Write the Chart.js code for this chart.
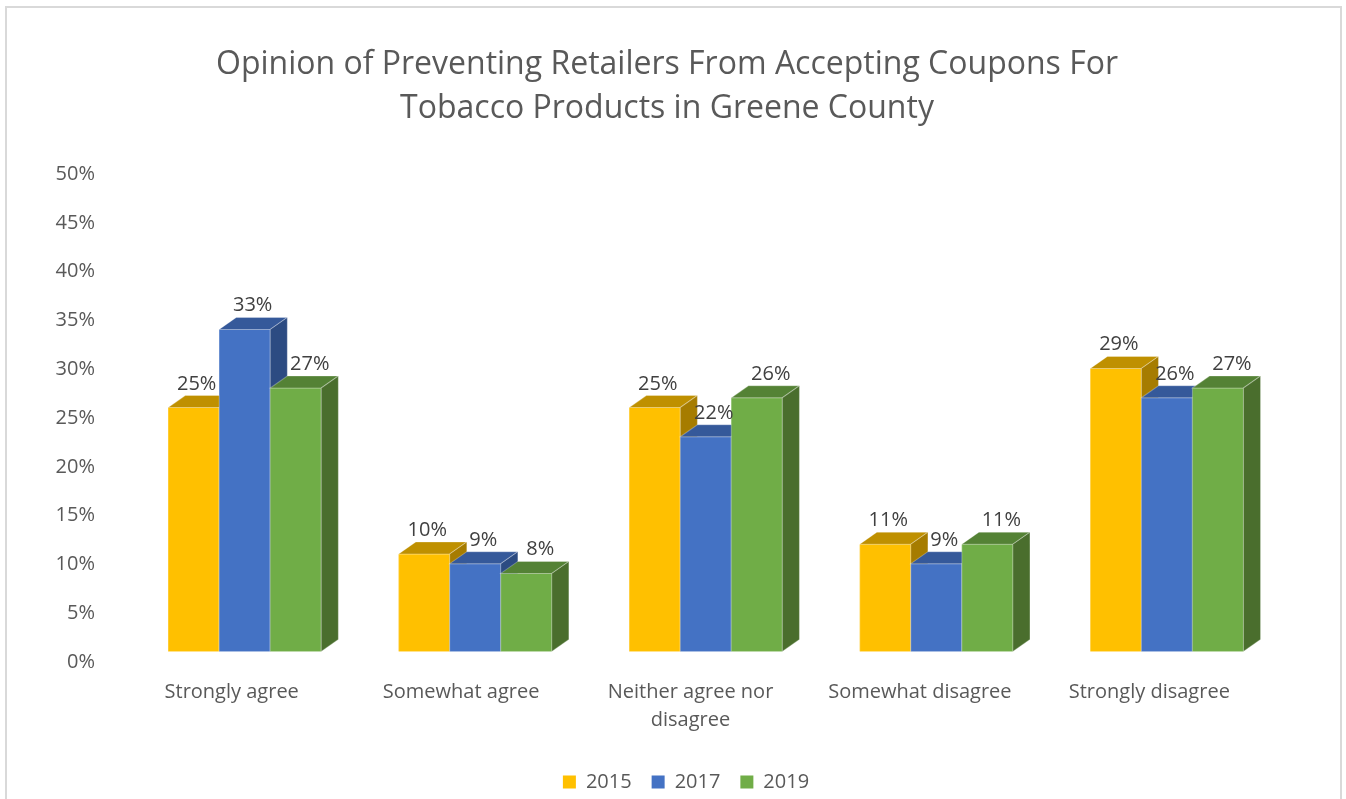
<!DOCTYPE html>
<html>
<head>
<meta charset="utf-8">
<title>Coupons opinion chart</title>
<script src="https://cdn.jsdelivr.net/npm/chart.js@4.4.0/dist/chart.umd.min.js"></script>
<style>
  html, body { margin: 0; padding: 0; background: #fff; }
  #wrap { width: 1346px; height: 799px; position: relative; }
</style>
</head>
<body>
<div id="wrap"><canvas id="chart"></canvas></div>
<script>
// chart data
const categories = ['Strongly agree', 'Somewhat agree', ['Neither agree nor', 'disagree'], 'Somewhat disagree', 'Strongly disagree'];
const years = ['2015', '2017', '2019'];
const values2015 = [25, 10, 25, 11, 29];
const values2017 = [33, 9, 22, 9, 26];
const values2019 = [27, 8, 26, 11, 27];
const yTickMax = 50;
const yTickStep = 5;

// face colours (front, top, side) per year
const frontColors = ['#FFC000', '#4472C4', '#70AD47'];
const topColors = ['#BF9000', '#35599A', '#548235'];
const sideColors = ['#A67C00', '#2C4B82', '#4A6E2D'];
const labelOffsets = [3, 8, 14];

const FONT = '"Open Sans", "DejaVu Sans", sans-serif';
const DX = 17, DY = 12, SHIFT_X = 13, SHIFT_Y = -10.5, STRETCH = 1.005, PIVOT = 232;
const TITLE_CENTER = 667, LEGEND_CENTER = 686;
const EDGE = 'rgba(255,255,255,0.28)';

const border = {
  id: 'border',
  afterLayout(chart) {
    // excel centres the title and legend a little differently from chart.js
    const t = chart.titleBlock;
    const dt = TITLE_CENTER - (t.left + t.right) / 2;
    t.left += dt; t.right += dt;
    const l = chart.legend;
    const dl = LEGEND_CENTER - (l.left + l.right) / 2;
    l.left += dl; l.right += dl;
  },
  beforeDraw(chart) {
    const ctx = chart.ctx;
    ctx.save();
    ctx.strokeStyle = '#D9D9D9';
    ctx.lineWidth = 2;
    ctx.strokeRect(6, 7, 1335, 820);
    ctx.restore();
  }
};

function face(ctx, pts, color) {
  ctx.beginPath();
  ctx.moveTo(pts[0][0], pts[0][1]);
  for (let i = 1; i < pts.length; i++) ctx.lineTo(pts[i][0], pts[i][1]);
  ctx.closePath();
  ctx.fillStyle = color;
  ctx.fill();
  ctx.strokeStyle = EDGE;
  ctx.lineWidth = 1;
  ctx.stroke();
}

const bars3d = {
  id: 'bars3d',
  beforeDatasetsDraw(chart) {
    const ctx = chart.ctx;
    ctx.save();
    ctx.translate(PIVOT + SHIFT_X, SHIFT_Y);
    ctx.scale(STRETCH, 1);
    ctx.translate(-PIVOT, 0);
  },
  afterDatasetsDraw(chart) {
    const ctx = chart.ctx;
    const metas = chart.data.datasets.map((ds, i) => chart.getDatasetMeta(i));
    // paint left to right inside each group so side faces sit behind the next bar
    for (let c = 0; c < categories.length; c++) {
      metas.forEach((meta, d) => {
        const el = meta.data[c];
        const l = el.x - el.width / 2, r = el.x + el.width / 2, t = el.y, b = el.base;
        face(ctx, [[l, t], [r, t], [r, b], [l, b]], frontColors[d]);
        face(ctx, [[l, t], [l + DX, t - DY], [r + DX, t - DY], [r, t]], topColors[d]);
        face(ctx, [[r, t], [r + DX, t - DY], [r + DX, b - DY], [r, b]], sideColors[d]);
      });
    }
    ctx.restore();

    // value labels
    ctx.save();
    ctx.font = '20px ' + FONT;
    ctx.fillStyle = '#404040';
    ctx.textAlign = 'center';
    ctx.textBaseline = 'alphabetic';
    metas.forEach((meta, d) => {
      meta.data.forEach((el, c) => {
        const x = PIVOT + SHIFT_X + STRETCH * (el.x - PIVOT) + labelOffsets[d];
        const y = el.y + SHIFT_Y - DY - 6;
        ctx.fillText(chart.data.datasets[d].data[c] + '%', x, y);
      });
    });
    ctx.restore();
  }
};

new Chart(document.getElementById('chart'), {
  type: 'bar',
  data: {
    labels: categories,
    datasets: [
      { label: years[0], data: values2015, backgroundColor: frontColors[0] },
      { label: years[1], data: values2017, backgroundColor: frontColors[1] },
      { label: years[2], data: values2019, backgroundColor: frontColors[2] }
    ]
  },
  options: {
    responsive: true,
    maintainAspectRatio: false,
    animation: false,
    datasets: { bar: { barPercentage: 1, categoryPercentage: 0.664 } },
    layout: { padding: { left: 0, right: 82, top: 0, bottom: -3 } },
    plugins: {
      tooltip: { enabled: false },
      title: {
        display: true,
        fullSize: true,
        text: ['Opinion of Preventing Retailers From Accepting Coupons For', 'Tobacco Products in Greene County'],
        color: '#595959',
        font: { family: FONT, size: 32, weight: 'normal', lineHeight: 44 / 32 },
        padding: { top: 43, bottom: 43 }
      },
      legend: {
        position: 'bottom',
        fullSize: false,
        labels: {
          boxWidth: 13,
          boxHeight: 13,
          padding: 20,
          color: '#595959',
          font: { family: FONT, size: 20 }
        }
      }
    },
    scales: {
      x: {
        grid: { display: false, drawTicks: false },
        border: { display: false },
        ticks: {
          color: '#595959',
          padding: 16,
          maxRotation: 0,
          autoSkip: false,
          font: { family: FONT, size: 20, lineHeight: 28 / 20 }
        },
        afterFit(scale) { scale.height = 90; }
      },
      y: {
        min: 0,
        max: yTickMax,
        grid: { display: false, drawTicks: false },
        border: { display: false },
        ticks: {
          stepSize: yTickStep,
          color: '#595959',
          padding: 22,
          font: { family: FONT, size: 20 },
          callback: v => v + '%'
        },
        afterFit(scale) { scale.width = 117; }
      }
    }
  },
  plugins: [border, bars3d]
});
</script>
</body>
</html>
